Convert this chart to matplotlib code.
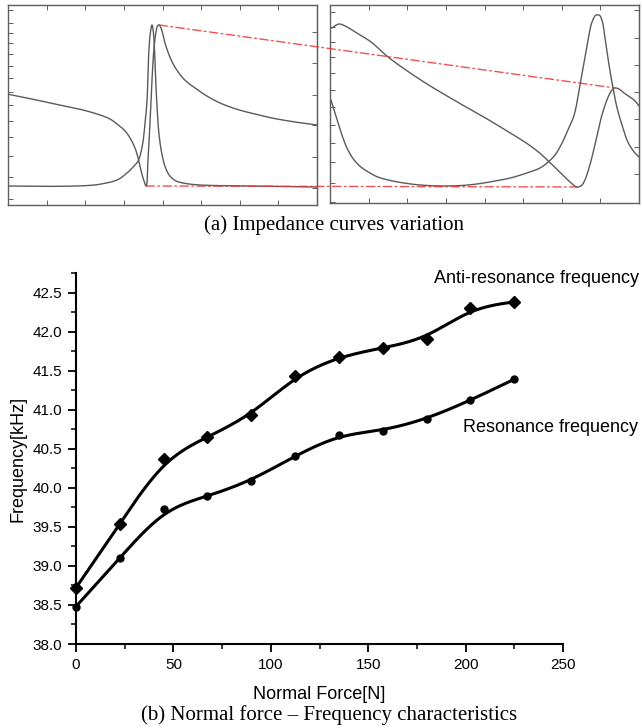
import numpy as np
import matplotlib
matplotlib.use("Agg")
import matplotlib.pyplot as plt
from matplotlib.patches import ConnectionPatch
from matplotlib.ticker import MultipleLocator

# ---------------- data: normal force vs frequency ----------------
force = [0, 22.5, 45, 67.5, 90, 112.5, 135, 157.5, 180, 202.5, 225]
anti_res = [38.72, 39.54, 40.37, 40.65, 40.93, 41.43, 41.68, 41.79, 41.91, 42.30, 42.38]
res = [38.48, 39.10, 39.73, 39.89, 40.09, 40.41, 40.68, 40.73, 40.88, 41.12, 41.39]

x_ticks = [0, 50, 100, 150, 200, 250]
y_ticks = [38.0, 38.5, 39.0, 39.5, 40.0, 40.5, 41.0, 41.5, 42.0, 42.5]

# ---------------- data: impedance curves (arbitrary units, 0-100) ----------------
# left panel, impedance magnitude
la_x = [0, 7.1, 13.6, 20.1, 24.3, 29.8, 33.0, 35.3, 37.9, 39.5, 41.1, 42.1, 43.0, 43.7, 44.7,
        45.3, 46.0, 46.6, 47.2, 47.9, 48.5, 48.9, 49.5, 50.2, 50.8, 52.4, 54.0, 56.3, 58.3,
        61.2, 63.8, 68.6, 74.4, 79.9, 85.4, 92.9, 100]
la_y = [55.4, 53.2, 51.0, 48.9, 47.5, 45.0, 43.0, 40.5, 37.0, 33.5, 28.5, 23.5, 17.5, 13.5, 9.5,
        22.5, 42.5, 62.5, 77.5, 86.5, 89.8, 90.0, 88.5, 85.0, 81.0, 74.0, 69.0, 64.0, 61.0,
        57.8, 55.0, 51.0, 47.7, 45.5, 43.5, 41.5, 40.0]
# left panel, second curve
lb_x = [0, 13.6, 26.5, 29.8, 35.3, 38.5, 40.5, 42.1, 43.4, 44.3, 45.0, 45.6, 46.1, 46.6,
        47.0, 47.4, 47.8, 48.2, 48.7, 49.3, 50.0, 51.0, 52.4, 54.4, 57.3, 62.1, 78.3, 100]
lb_y = [9.5, 9.3, 9.8, 10.4, 12.5, 16.0, 19.0, 22.0, 29.0, 40.0, 52.5, 77.5, 86.5, 90.0,
        87.0, 78.0, 62.0, 50.0, 38.0, 30.0, 24.0, 18.5, 14.5, 12.0, 10.8, 10.0, 9.5, 9.0]
# right panel, impedance magnitude
rc_x = [0.6, 2.9, 4.9, 8.1, 13.3, 18.8, 29.4, 40.1, 49.8, 58.3, 63.8, 67.5, 70.6, 74.4, 77.7,
        79.9, 81.2, 82.2, 84.1, 86.1, 88.0, 90.0, 91.3, 92.2, 93.5, 95.1, 98.4, 100]
rc_y = [88.4, 90.4, 89.4, 86.4, 81.3, 73.7, 62.1, 52.0, 43.4, 35.4, 30.0, 25.7, 21.3, 15.6, 10.6,
        8.1, 8.6, 10.6, 19.2, 31.8, 44.4, 53.5, 57.1, 58.1, 57.6, 55.6, 52.0, 49.0]
# right panel, second curve
rd_x = [0.3, 1.3, 2.6, 4.2, 5.8, 7.8, 10.0, 12.9, 15.5, 19.4, 23.9, 29.1, 35.6, 42.1, 47.6,
        53.4, 58.3, 63.8, 68.0, 70.6, 72.8, 75.1, 77.0, 79.0, 80.9, 82.2, 83.5, 84.8, 86.1,
        87.1, 88.0, 89.0, 90.3, 91.6, 92.9, 94.5, 96.4, 98.4, 100]
rd_y = [52.0, 47.0, 40.4, 32.8, 26.8, 21.7, 18.2, 15.2, 13.1, 11.4, 10.1, 9.1, 8.6, 8.8, 9.6,
        11.1, 12.6, 15.2, 17.7, 20.7, 24.2, 30.3, 36.9, 44.4, 59.6, 71.2, 82.3, 91.4, 94.9,
        94.9, 92.4, 83.3, 69.7, 58.1, 48.0, 39.4, 30.8, 25.8, 23.2]

# tick positions of the impedance frames
frame_x_ticks = [12.5, 25, 37.5, 50, 62.5, 75, 87.5]
l_left_ticks = [97.5, 91, 86, 81, 75.5, 69.5, 63.5, 56.5, 50, 42, 34, 24.5, 14, 3]
l_right_ticks = [86.5, 71, 55, 40, 24, 8.5]
r_left_ticks = [96.6, 89.0, 81.4, 73.6, 65.8, 57.1, 48.3, 39.4, 30.2, 20.5, 10.3, 0.7]
r_right_ticks = [97.5, 83.2, 69.7, 56.2, 42.3, 28.4, 14.6]


def bspline(x, y, per=60):
    """Origin-style B-spline connection through the data."""
    P = np.column_stack([x, y]).astype(float)
    P = np.vstack([P[0], P[0], P, P[-1], P[-1]])
    t = np.linspace(0, 1, per, endpoint=False)
    b0 = (1 - t) ** 3 / 6
    b1 = (3 * t ** 3 - 6 * t ** 2 + 4) / 6
    b2 = (-3 * t ** 3 + 3 * t ** 2 + 3 * t + 1) / 6
    b3 = t ** 3 / 6
    segs = []
    for i in range(len(P) - 3):
        segs.append(b0[:, None] * P[i] + b1[:, None] * P[i + 1]
                    + b2[:, None] * P[i + 2] + b3[:, None] * P[i + 3])
    segs.append(P[-1][None, :])
    pts = np.vstack(segs)
    return pts[:, 0], pts[:, 1]


def catmull(x, y, n=14):
    """Centripetal Catmull-Rom connection through the sampled points."""
    P = np.column_stack([x, y]).astype(float)
    P = np.vstack([2 * P[0] - P[1], P, 2 * P[-1] - P[-2]])
    out = []
    for i in range(1, len(P) - 2):
        p0, p1, p2, p3 = P[i - 1], P[i], P[i + 1], P[i + 2]
        t0 = 0.0
        t1 = t0 + max(np.linalg.norm(p1 - p0), 1e-6) ** 0.5
        t2 = t1 + max(np.linalg.norm(p2 - p1), 1e-6) ** 0.5
        t3 = t2 + max(np.linalg.norm(p3 - p2), 1e-6) ** 0.5
        t = np.linspace(t1, t2, n, endpoint=False)[:, None]
        A1 = (t1 - t) / (t1 - t0) * p0 + (t - t0) / (t1 - t0) * p1
        A2 = (t2 - t) / (t2 - t1) * p1 + (t - t1) / (t2 - t1) * p2
        A3 = (t3 - t) / (t3 - t2) * p2 + (t - t2) / (t3 - t2) * p3
        B1 = (t2 - t) / (t2 - t0) * A1 + (t - t0) / (t2 - t0) * A2
        B2 = (t3 - t) / (t3 - t1) * A2 + (t - t1) / (t3 - t1) * A3
        C = (t2 - t) / (t2 - t1) * B1 + (t - t1) / (t2 - t1) * B2
        out.append(C)
    out.append(P[-2][None, :])
    pts = np.vstack(out)
    return pts[:, 0], pts[:, 1]


fig = plt.figure(figsize=(6.42, 7.28), dpi=100)
frame_col = "#5e5e5e"
curve_col = "#5a5a5a"
red = "#f03030"


def style_frame(ax, lticks, rticks):
    ax.set_xlim(0, 100)
    ax.set_ylim(0, 100)
    for s in ax.spines.values():
        s.set_color(frame_col)
        s.set_linewidth(1.0)
    ax.set_xticks(frame_x_ticks)
    ax.set_yticks(lticks)
    ax.tick_params(axis="both", direction="in", length=3.5, width=0.7, color=frame_col,
                   labelbottom=False, labelleft=False, top=True, bottom=True, left=True,
                   right=False)
    sec = ax.secondary_yaxis("right")
    sec.set_yticks(rticks)
    sec.tick_params(direction="in", length=3.5, width=0.7, color=frame_col, labelright=False)
    sec.spines["right"].set_color(frame_col)


axL = fig.add_axes([8 / 642, 1 - 205 / 728, 309 / 642, 200 / 728])
axR = fig.add_axes([330 / 642, 1 - 203 / 728, 309 / 642, 198 / 728])
style_frame(axL, l_left_ticks, l_right_ticks)
style_frame(axR, r_left_ticks, r_right_ticks)

for a, cx, cy in [(axL, la_x, la_y), (axL, lb_x, lb_y), (axR, rc_x, rc_y), (axR, rd_x, rd_y)]:
    sx, sy = catmull(cx, cy)
    a.plot(sx, sy, color=curve_col, lw=1.0)

# red dash-dot connections: anti-resonance peaks and resonance troughs
la_xa, la_ya = np.array(la_x), np.array(la_y)
rc_xa, rc_ya = np.array(rc_x), np.array(rc_y)
lpk = int(np.argmax(la_ya))
ltr = int(np.argmin(la_ya))
rtr = int(np.argmin(rc_ya))
mask = rc_xa > rc_xa[rtr]
rpk = int(np.where(mask)[0][np.argmax(rc_ya[mask])])
for (xa, ya, xb, yb) in [(la_xa[lpk], la_ya[lpk], rc_xa[rpk], rc_ya[rpk]),
                         (la_xa[ltr], la_ya[ltr], rc_xa[rtr], rc_ya[rtr])]:
    cp = ConnectionPatch(xyA=(xa, ya), coordsA=axL.transData,
                         xyB=(xb, yb), coordsB=axR.transData,
                         color=red, lw=1.0, linestyle=(0, (6, 2.5, 1.2, 2.5)), alpha=0.85)
    fig.add_artist(cp)

fig.text(334 / 642, 1 - 225 / 728, "(a) Impedance curves variation",
         family="Liberation Serif", fontsize=15, ha="center", va="center")

# ---------------- bottom chart ----------------
ax = fig.add_axes([76 / 642, 1 - 644 / 728, 487 / 642, 371 / 728])
ax.set_xlim(0, 250)
ax.set_ylim(38.0, 42.75)
for side in ("top", "right"):
    ax.spines[side].set_visible(False)
for side in ("left", "bottom"):
    ax.spines[side].set_linewidth(1.5)

ax.set_xticks(x_ticks)
ax.set_yticks(y_ticks)
ax.xaxis.set_minor_locator(MultipleLocator(25))
ax.yaxis.set_minor_locator(MultipleLocator(0.25))
ax.set_yticklabels([f"{v:.1f}" for v in y_ticks])
ax.tick_params(which="major", direction="out", length=6, width=1.3, labelsize=11, pad=4)
ax.tick_params(which="minor", direction="out", length=3.5, width=1.1)
for lab in ax.get_xticklabels() + ax.get_yticklabels():
    lab.set_family("Liberation Sans")

ax_x, ax_y = bspline(force, anti_res)
ax.plot(ax_x, ax_y, color="black", lw=2.2, clip_on=False)
rs_x, rs_y = bspline(force, res)
ax.plot(rs_x, rs_y, color="black", lw=2.2, clip_on=False)
ax.plot(force, anti_res, linestyle="none", marker="D", ms=6.5, color="black", clip_on=False)
ax.plot(force, res, linestyle="none", marker="o", ms=5, color="black", clip_on=False)

ax.text(183.8, 42.68, "Anti-resonance frequency", family="Liberation Sans", fontsize=13,
        ha="left", va="center", clip_on=False)
ax.text(198.7, 40.77, "Resonance frequency", family="Liberation Sans", fontsize=13,
        ha="left", va="center", clip_on=False)

ax.set_xlabel("Normal Force[N]", family="Liberation Sans", fontsize=13, labelpad=10)
ax.set_ylabel("Frequency[kHz]", family="Liberation Sans", fontsize=13, labelpad=4)

fig.text(329 / 642, 1 - 715 / 728, "(b) Normal force \u2013 Frequency characteristics",
         family="Liberation Serif", fontsize=15, ha="center", va="center")

fig.savefig("out.png", dpi=100)
